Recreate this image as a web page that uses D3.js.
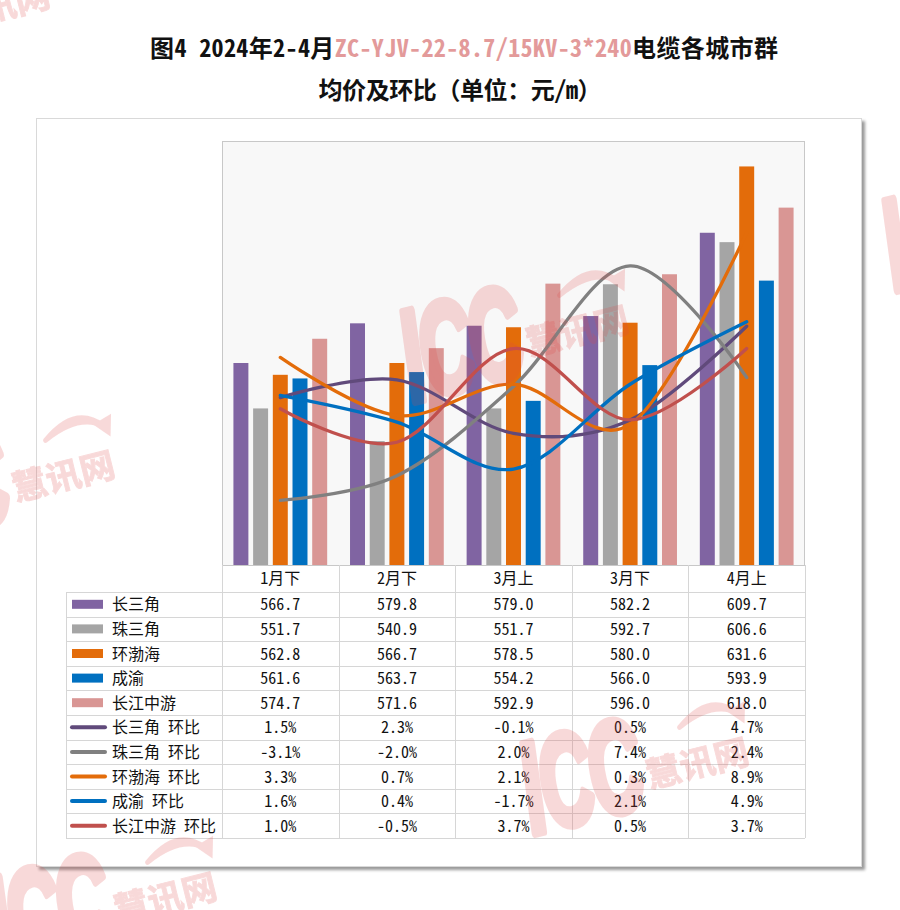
<!DOCTYPE html>
<html><head><meta charset="utf-8">
<script src="https://cdn.jsdelivr.net/npm/d3@7/dist/d3.min.js"></script>
<style>body{margin:0;background:#fff}</style>
</head><body>
<svg id="chart" width="900" height="910"></svg>
<script>
// ---------- data ----------
const categories = ["1月下", "2月下", "3月上", "3月下", "4月上"];
const barNames = ["长三角", "珠三角", "环渤海", "成渝", "长江中游"];
const priceYRD = [566.7, 579.8, 579.0, 582.2, 609.7];      // 长三角
const pricePRD = [551.7, 540.9, 551.7, 592.7, 606.6];      // 珠三角
const priceBohai = [562.8, 566.7, 578.5, 580.0, 631.6];    // 环渤海
const priceChengyu = [561.6, 563.7, 554.2, 566.0, 593.9];  // 成渝
const priceMidYZ = [574.7, 571.6, 592.9, 596.0, 618.0];    // 长江中游
const lineNames = ["长三角 环比", "珠三角 环比", "环渤海 环比", "成渝 环比", "长江中游 环比"];
const momYRD = [1.5, 2.3, -0.1, 0.5, 4.7];
const momPRD = [-3.1, -2.0, 2.0, 7.4, 2.4];
const momBohai = [3.3, 0.7, 2.1, 0.3, 8.9];
const momChengyu = [1.6, 0.4, -1.7, 2.1, 4.9];
const momMidYZ = [1.0, -0.5, 3.7, 0.5, 3.7];
const barColors = ["#8064A2", "#A5A5A5", "#E36C0A", "#0070C0", "#D99694"];
const lineColors = ["#604A7B", "#808080", "#E36C0A", "#0070C0", "#C0504D"];

const barData = [priceYRD, pricePRD, priceBohai, priceChengyu, priceMidYZ];
const lineData = [momYRD, momPRD, momBohai, momChengyu, momMidYZ];

// ---------- layout ----------
const plot = {l: 222, r: 805, t: 141, b: 565};
const tableLeft = 66, rowH = 24.6, headerBottom = 592;
const FONT = '"Noto Sans Mono CJK SC","Noto Sans CJK SC","Noto Sans",sans-serif';

const svg = d3.select("#chart");
const defs = svg.append("defs");
const f = defs.append("filter").attr("id", "shadow").attr("x", "-5%").attr("y", "-5%").attr("width", "110%").attr("height", "110%");
f.append("feDropShadow").attr("dx", 3).attr("dy", 3).attr("stdDeviation", 1.6)
  .attr("flood-color", "#000").attr("flood-opacity", 0.4);

// outer frame
svg.append("rect").attr("x", 36.5).attr("y", 118.5).attr("width", 825).attr("height", 748)
  .attr("fill", "#fff").attr("stroke", "#d9d9d9").attr("stroke-width", 1).attr("filter", "url(#shadow)");

// title
const t1 = svg.append("text").attr("x", 464).attr("y", 57).attr("text-anchor", "middle")
  .attr("font-family", FONT).attr("font-size", 24).attr("font-weight", "bold")
  .attr("textLength", 628).attr("lengthAdjust", "spacing");
t1.append("tspan").attr("fill", "#111").text("图4 2024年2-4月");
t1.append("tspan").attr("fill", "#E39A9A").text("ZC-YJV-22-8.7/15KV-3*240");
t1.append("tspan").attr("fill", "#111").text("电缆各城市群");
svg.append("text").attr("x", 460).attr("y", 99).attr("text-anchor", "middle")
  .attr("font-family", FONT).attr("font-size", 24).attr("font-weight", "bold").attr("fill", "#111")
  .attr("textLength", 283).attr("lengthAdjust", "spacing")
  .text("均价及环比（单位：元/m）");

// plot background
svg.append("rect").attr("x", plot.l + 0.5).attr("y", plot.t + 0.5)
  .attr("width", plot.r - plot.l - 1).attr("height", plot.b - plot.t)
  .attr("fill", "#f8f8f8").attr("stroke", "#c8c8c8");

// scales
const x = d3.scaleBand().domain(categories).range([plot.l, plot.r]);
const xIn = d3.scaleBand().domain(barNames).range([0, x.bandwidth()]).paddingInner(0.24).paddingOuter(0.58);
const yL = d3.scaleLinear().domain([500, 640]).range([plot.b, plot.t]);
const yR = d3.scaleLinear().domain([-6, 13]).range([plot.b, plot.t]);

// bars
barNames.forEach((name, si) => {
  svg.append("g").selectAll("rect").data(barData[si]).join("rect")
    .attr("x", (d, i) => x(categories[i]) + xIn(name))
    .attr("width", xIn.bandwidth())
    .attr("y", d => yL(d))
    .attr("height", d => yL.range()[0] - yL(d))
    .attr("fill", barColors[si]);
});

// lines
const line = d3.line()
  .x((d, i) => x(categories[i]) + x.bandwidth() / 2)
  .y(d => yR(d))
  .curve(d3.curveCatmullRom.alpha(0));
lineNames.forEach((name, si) => {
  svg.append("path").datum(lineData[si]).attr("d", line)
    .attr("fill", "none").attr("stroke", lineColors[si]).attr("stroke-width", 3.3)
    .attr("stroke-linecap", "round");
});

// ---------- data table ----------
const grid = "#d6d6d6";
const nRows = barNames.length + lineNames.length;
const tableBottom = headerBottom + nRows * rowH;
const g = svg.append("g").attr("stroke", grid).attr("stroke-width", 1).attr("shape-rendering", "crispEdges");
for (let k = 0; k <= nRows; k++) {
  const yy = Math.round(headerBottom + k * rowH) + 0.5;
  g.append("line").attr("x1", tableLeft).attr("x2", plot.r).attr("y1", yy).attr("y2", yy);
}
g.append("line").attr("x1", tableLeft + 0.5).attr("x2", tableLeft + 0.5).attr("y1", headerBottom).attr("y2", tableBottom);
[...categories.map(c => x(c)), plot.r].forEach(xx => {
  const xv = Math.round(xx) + 0.5;
  g.append("line").attr("x1", xv).attr("x2", xv).attr("y1", plot.b).attr("y2", tableBottom);
});

// header via axis
const axis = d3.axisBottom(x).tickSize(0).tickPadding(7.5);
const ax = svg.append("g").attr("transform", `translate(0,${plot.b})`).call(axis);
ax.select(".domain").remove();
ax.selectAll("text").attr("font-family", FONT).attr("font-size", 16).attr("fill", "#111");

// rows
const rowLabels = [...barNames, ...lineNames];
const rowValues = [...barData.map(a => a.map(v => v.toFixed(1))), ...lineData.map(a => a.map(v => v.toFixed(1) + "%"))];
rowLabels.forEach((lab, k) => {
  const cy = headerBottom + (k + 0.5) * rowH;
  if (k < barNames.length) {
    svg.append("rect").attr("x", 72).attr("y", cy - 4.5).attr("width", 31).attr("height", 9).attr("fill", barColors[k]);
  } else {
    svg.append("line").attr("x1", 72).attr("x2", 105).attr("y1", cy).attr("y2", cy)
      .attr("stroke", lineColors[k - barNames.length]).attr("stroke-width", 4).attr("stroke-linecap", "round");
  }
  svg.append("text").attr("x", 112).attr("y", cy + 6).attr("font-family", FONT).attr("font-size", 16)
    .attr("fill", "#111").text(lab);
  svg.append("g").selectAll("text").data(rowValues[k]).join("text")
    .attr("x", (d, i) => x(categories[i]) + x.bandwidth() / 2)
    .attr("y", cy + 6).attr("text-anchor", "middle")
    .attr("font-family", FONT).attr("font-size", 16).attr("fill", "#111").text(d => d);
});

// ---------- watermarks ----------
function watermark(ox, oy) {
  const w = svg.append("g").attr("transform", `translate(${ox},${oy}) rotate(-14)`)
    .attr("opacity", 0.2).attr("fill", "#e04848").attr("pointer-events", "none");
  w.append("text").attr("transform", "scale(0.56,1)").attr("x", 0).attr("y", 0)
    .attr("font-family", '"Liberation Sans",Arial,sans-serif').attr("font-weight", "bold")
    .attr("font-style", "italic").attr("font-size", 130).attr("letter-spacing", -4)
    .attr("stroke", "#e04848").attr("stroke-width", 9).attr("stroke-linejoin", "round").text("ICC");
  w.append("text").attr("x", 124).attr("y", -16).attr("font-family", '"Noto Sans CJK SC",sans-serif')
    .attr("font-weight", "bold").attr("font-size", 35).attr("stroke", "#e04848").attr("stroke-width", 1).text("慧讯网");
  w.append("path").attr("d", "M168,-68 Q205,-96 228,-68 Q206,-86 168,-68 Z")
    .attr("stroke", "#e04848").attr("stroke-width", 5).attr("stroke-linejoin", "round");
  w.append("path").attr("d", "M218,-72 L238,-78 L232,-56 Z");
}
watermark(413, 402);
watermark(-101, 547);
watermark(533, 834);
watermark(1, 969);
watermark(895, 291);
watermark(-166, 77);
</script>
</body></html>
